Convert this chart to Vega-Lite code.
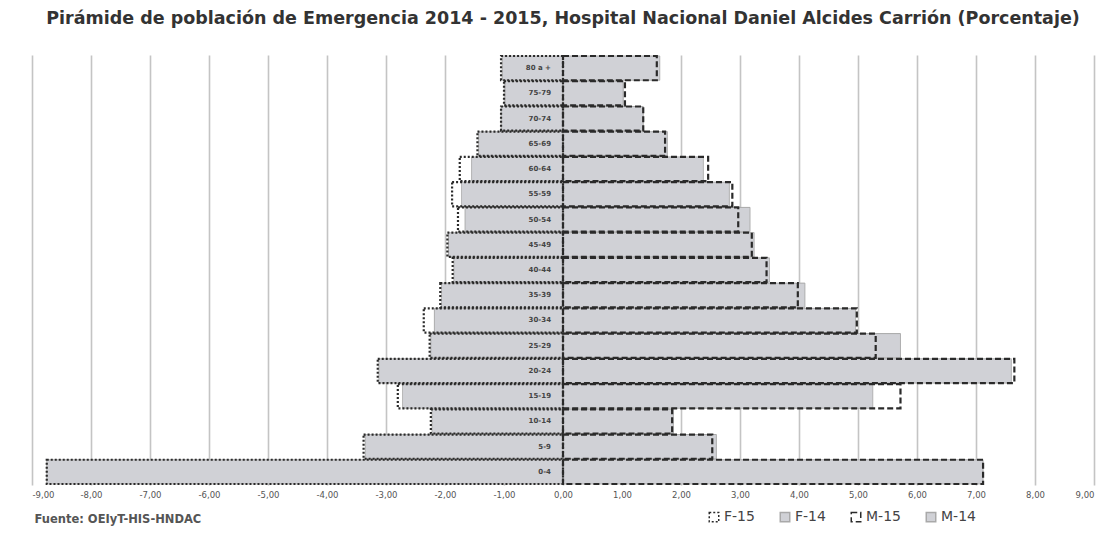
{
  "$schema": "https://vega.github.io/schema/vega-lite/v6.json",
  "width": 1062,
  "height": 430,
  "autosize": {"type": "none"},
  "padding": {"left": 32, "top": 55, "right": 23, "bottom": 60},
  "background": "white",
  "config": {
    "view": {"stroke": null},
    "font": "DejaVu Sans",
    "locale": {"number": {"decimal": ",", "thousands": ".", "grouping": [3], "currency": ["", ""], "minus": "-"}}
  },
  "title": {
    "text": "Pirámide de población de Emergencia 2014 - 2015, Hospital Nacional Daniel Alcides Carrión (Porcentaje)",
    "font": "DejaVu Sans",
    "fontSize": 17.5,
    "fontWeight": "bold",
    "color": "#333333",
    "anchor": "middle",
    "offset": 27
  },
  "datasets": {
    "pob": [
      {"edad": "0-4", "serie": "F-14", "valor": -8.75},
      {"edad": "5-9", "serie": "F-14", "valor": -3.35},
      {"edad": "10-14", "serie": "F-14", "valor": -2.22},
      {"edad": "15-19", "serie": "F-14", "valor": -2.72},
      {"edad": "20-24", "serie": "F-14", "valor": -3.12},
      {"edad": "25-29", "serie": "F-14", "valor": -2.24},
      {"edad": "30-34", "serie": "F-14", "valor": -2.18},
      {"edad": "35-39", "serie": "F-14", "valor": -2.06},
      {"edad": "40-44", "serie": "F-14", "valor": -1.85},
      {"edad": "45-49", "serie": "F-14", "valor": -1.94},
      {"edad": "50-54", "serie": "F-14", "valor": -1.66},
      {"edad": "55-59", "serie": "F-14", "valor": -1.72},
      {"edad": "60-64", "serie": "F-14", "valor": -1.55},
      {"edad": "65-69", "serie": "F-14", "valor": -1.43},
      {"edad": "70-74", "serie": "F-14", "valor": -1.05},
      {"edad": "75-79", "serie": "F-14", "valor": -0.98},
      {"edad": "80 a +", "serie": "F-14", "valor": -1.03},
      {"edad": "0-4", "serie": "M-14", "valor": 7.12},
      {"edad": "5-9", "serie": "M-14", "valor": 2.6},
      {"edad": "10-14", "serie": "M-14", "valor": 1.87},
      {"edad": "15-19", "serie": "M-14", "valor": 5.25},
      {"edad": "20-24", "serie": "M-14", "valor": 7.6},
      {"edad": "25-29", "serie": "M-14", "valor": 5.72},
      {"edad": "30-34", "serie": "M-14", "valor": 4.96},
      {"edad": "35-39", "serie": "M-14", "valor": 4.1},
      {"edad": "40-44", "serie": "M-14", "valor": 3.5},
      {"edad": "45-49", "serie": "M-14", "valor": 3.24},
      {"edad": "50-54", "serie": "M-14", "valor": 3.17},
      {"edad": "55-59", "serie": "M-14", "valor": 2.82},
      {"edad": "60-64", "serie": "M-14", "valor": 2.38},
      {"edad": "65-69", "serie": "M-14", "valor": 1.77},
      {"edad": "70-74", "serie": "M-14", "valor": 1.36},
      {"edad": "75-79", "serie": "M-14", "valor": 1.02},
      {"edad": "80 a +", "serie": "M-14", "valor": 1.64},
      {"edad": "0-4", "serie": "F-15", "valor": -8.75},
      {"edad": "5-9", "serie": "F-15", "valor": -3.38},
      {"edad": "10-14", "serie": "F-15", "valor": -2.24},
      {"edad": "15-19", "serie": "F-15", "valor": -2.8},
      {"edad": "20-24", "serie": "F-15", "valor": -3.14},
      {"edad": "25-29", "serie": "F-15", "valor": -2.26},
      {"edad": "30-34", "serie": "F-15", "valor": -2.36},
      {"edad": "35-39", "serie": "F-15", "valor": -2.08},
      {"edad": "40-44", "serie": "F-15", "valor": -1.87},
      {"edad": "45-49", "serie": "F-15", "valor": -1.96},
      {"edad": "50-54", "serie": "F-15", "valor": -1.78},
      {"edad": "55-59", "serie": "F-15", "valor": -1.88},
      {"edad": "60-64", "serie": "F-15", "valor": -1.75},
      {"edad": "65-69", "serie": "F-15", "valor": -1.45},
      {"edad": "70-74", "serie": "F-15", "valor": -1.05},
      {"edad": "75-79", "serie": "F-15", "valor": -1.0},
      {"edad": "80 a +", "serie": "F-15", "valor": -1.05},
      {"edad": "0-4", "serie": "M-15", "valor": 7.12},
      {"edad": "5-9", "serie": "M-15", "valor": 2.53},
      {"edad": "10-14", "serie": "M-15", "valor": 1.85},
      {"edad": "15-19", "serie": "M-15", "valor": 5.72},
      {"edad": "20-24", "serie": "M-15", "valor": 7.65},
      {"edad": "25-29", "serie": "M-15", "valor": 5.3},
      {"edad": "30-34", "serie": "M-15", "valor": 4.98},
      {"edad": "35-39", "serie": "M-15", "valor": 3.98},
      {"edad": "40-44", "serie": "M-15", "valor": 3.45},
      {"edad": "45-49", "serie": "M-15", "valor": 3.2},
      {"edad": "50-54", "serie": "M-15", "valor": 2.97},
      {"edad": "55-59", "serie": "M-15", "valor": 2.87},
      {"edad": "60-64", "serie": "M-15", "valor": 2.46},
      {"edad": "65-69", "serie": "M-15", "valor": 1.73},
      {"edad": "70-74", "serie": "M-15", "valor": 1.36},
      {"edad": "75-79", "serie": "M-15", "valor": 1.05},
      {"edad": "80 a +", "serie": "M-15", "valor": 1.59}
    ]
  },
  "data": {"name": "pob"},
  "encoding": {
    "y": {
      "field": "edad",
      "type": "nominal",
      "sort": ["80 a +", "75-79", "70-74", "65-69", "60-64", "55-59", "50-54", "45-49", "40-44", "35-39", "30-34", "25-29", "20-24", "15-19", "10-14", "5-9", "0-4"],
      "scale": {"paddingInner": 0.04, "paddingOuter": 0.04},
      "axis": null
    }
  },
  "layer": [
    {
      "transform": [{"filter": "datum.serie == 'F-14' || datum.serie == 'M-14'"}],
      "mark": {"type": "bar", "strokeWidth": 1},
      "encoding": {
        "x": {
          "field": "valor",
          "type": "quantitative",
          "scale": {"domain": [-9, 9], "nice": false},
          "axis": {
            "values": [-9, -8, -7, -6, -5, -4, -3, -2, -1, 0, 1, 2, 3, 4, 5, 6, 7, 8, 9],
            "format": ".2f",
            "grid": true,
            "gridColor": "#c4c4c4",
            "gridWidth": 1.6,
            "domain": false,
            "ticks": false,
            "labelFontSize": 8.5,
            "labelColor": "#555555",
            "labelPadding": 5,
            "title": "Fuente: OEIyT-HIS-HNDAC",
            "titleAnchor": "start",
            "titleAlign": "left",
            "titleX": 2,
            "titleY": 28,
            "titleFontSize": 11.5,
            "titleFontWeight": "bold",
            "titleColor": "#555555"
          }
        },
        "fill": {
          "field": "serie",
          "type": "nominal",
          "scale": {"domain": ["F-15", "F-14", "M-15", "M-14"], "range": ["transparent", "#d0d1d6", "transparent", "#d0d1d6"]},
          "legend": {
            "title": null,
            "orient": "none",
            "legendX": 675,
            "legendY": 455,
            "direction": "horizontal",
            "symbolType": "square",
            "symbolSize": 90,
            "labelFont": "DejaVu Sans",
            "labelFontSize": 14,
            "labelColor": "#444444",
            "columnPadding": 22,
            "labelOffset": 3
          }
        },
        "stroke": {
          "field": "serie",
          "type": "nominal",
          "scale": {"domain": ["F-15", "F-14", "M-15", "M-14"], "range": ["#2a2a2a", "#a9a9a9", "#2a2a2a", "#a9a9a9"]}
        },
        "strokeDash": {
          "field": "serie",
          "type": "nominal",
          "scale": {"domain": ["F-15", "F-14", "M-15", "M-14"], "range": [[2, 2], [1, 0], [6, 3], [1, 0]]}
        }
      }
    },
    {
      "transform": [{"filter": "datum.serie == 'F-15' || datum.serie == 'M-15'"}],
      "mark": {"type": "bar", "strokeWidth": 2.2},
      "encoding": {
        "x": {"field": "valor", "type": "quantitative"},
        "fill": {"field": "serie", "type": "nominal"},
        "stroke": {"field": "serie", "type": "nominal"},
        "strokeDash": {"field": "serie", "type": "nominal"}
      }
    },
    {
      "mark": {"type": "rule", "color": "#333333", "strokeWidth": 1.5, "strokeDash": [3, 2]},
      "encoding": {"x": {"datum": 0}}
    },
    {
      "transform": [{"filter": "datum.serie == 'F-14'"}],
      "mark": {"type": "text", "align": "right", "baseline": "middle", "dx": -12, "fontSize": 7, "fontWeight": "bold", "color": "#444444"},
      "encoding": {
        "x": {"datum": 0},
        "text": {"field": "edad", "type": "nominal"}
      }
    }
  ]
}
